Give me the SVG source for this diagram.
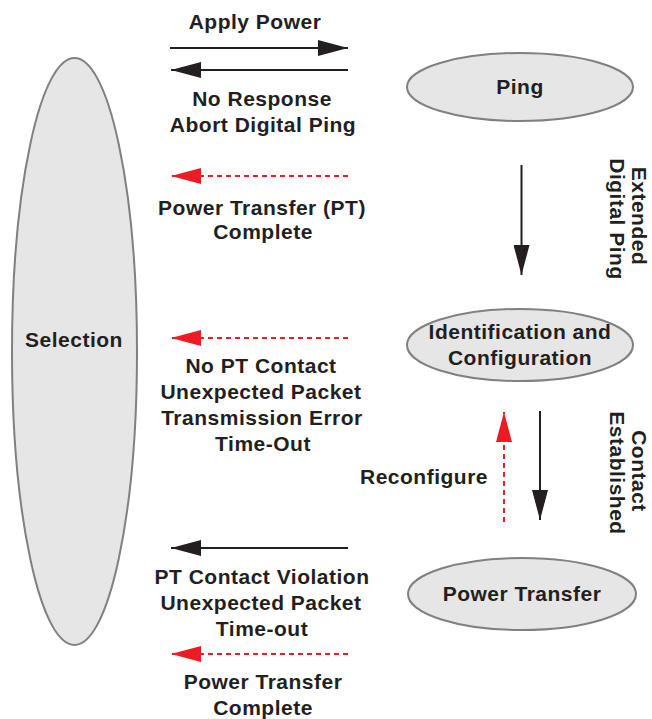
<svg xmlns="http://www.w3.org/2000/svg" width="652" height="719" viewBox="0 0 652 719">
<defs>
<style>
.t{font-family:"Liberation Sans",Arial,sans-serif;font-weight:bold;font-size:21px;fill:#231f20;text-anchor:middle;letter-spacing:0.5px}
.node{fill:#e6e6e6;stroke:#808080;stroke-width:2}
.k{stroke:#231f20;stroke-width:2;fill:none}
.r{stroke:#ed1c24;stroke-width:2;fill:none;stroke-dasharray:5 4}
</style>
<marker id="ak" markerWidth="30" markerHeight="16" refX="30" refY="8" orient="auto" markerUnits="userSpaceOnUse"><path d="M0,0 L30,8 L0,16 Z" fill="#231f20"/></marker>
<marker id="ar" markerWidth="30" markerHeight="16" refX="30" refY="8" orient="auto" markerUnits="userSpaceOnUse"><path d="M0,0 L30,8 L0,16 Z" fill="#ed1c24"/></marker>
</defs>
<rect width="652" height="719" fill="#ffffff"/>
<g id="selection"><ellipse class="node" cx="74.5" cy="351.5" rx="62.5" ry="293.5"/><text class="t" x="74" y="347">Selection</text></g>
<g id="ping"><ellipse class="node" cx="520" cy="87" rx="113" ry="34"/><text class="t" x="520" y="94">Ping</text></g>
<g id="ident"><ellipse class="node" cx="520" cy="345" rx="113" ry="36"/><text class="t" x="520" y="339">Identification and</text><text class="t" x="520" y="365">Configuration</text></g>
<g id="power"><ellipse class="node" cx="522" cy="594" rx="114" ry="36"/><text class="t" x="522" y="601">Power Transfer</text></g>
<g id="connectors">
<line class="k" x1="170" y1="48" x2="348" y2="48" marker-end="url(#ak)"/>
<line class="k" x1="348" y1="70" x2="171" y2="70" marker-end="url(#ak)"/>
<line class="r" x1="348" y1="176" x2="171" y2="176" marker-end="url(#ar)"/>
<line class="r" x1="348" y1="338" x2="171" y2="338" marker-end="url(#ar)"/>
<line class="k" x1="348" y1="548" x2="171" y2="548" marker-end="url(#ak)"/>
<line class="r" x1="348" y1="654" x2="171" y2="654" marker-end="url(#ar)"/>
<line class="k" x1="521.5" y1="165" x2="521.5" y2="275" marker-end="url(#ak)"/>
<line class="r" x1="504" y1="522" x2="504" y2="412" marker-end="url(#ar)"/>
<line class="k" x1="540" y1="411" x2="540" y2="520" marker-end="url(#ak)"/>
</g>
<g id="labels">
<text class="t" x="255" y="29">Apply Power</text>
<text class="t" x="262" y="106">No Response</text>
<text class="t" x="263" y="132">Abort Digital Ping</text>
<text class="t" x="262" y="215">Power Transfer (PT)</text>
<text class="t" x="263" y="239">Complete</text>
<text class="t" x="261" y="373">No PT Contact</text>
<text class="t" x="261" y="399">Unexpected Packet</text>
<text class="t" x="262" y="425">Transmission Error</text>
<text class="t" x="263" y="451">Time-Out</text>
<text class="t" x="262" y="584">PT Contact Violation</text>
<text class="t" x="261" y="610">Unexpected Packet</text>
<text class="t" x="262" y="636">Time-out</text>
<text class="t" x="263" y="689">Power Transfer</text>
<text class="t" x="263" y="715">Complete</text>
<text class="t" x="424" y="484">Reconfigure</text>
<text class="t" transform="translate(632,216) rotate(90)">Extended</text>
<text class="t" transform="translate(610,219) rotate(90)">Digital Ping</text>
<text class="t" transform="translate(632,471) rotate(90)">Contact</text>
<text class="t" transform="translate(610,473) rotate(90)">Established</text>
</g>
</svg>
